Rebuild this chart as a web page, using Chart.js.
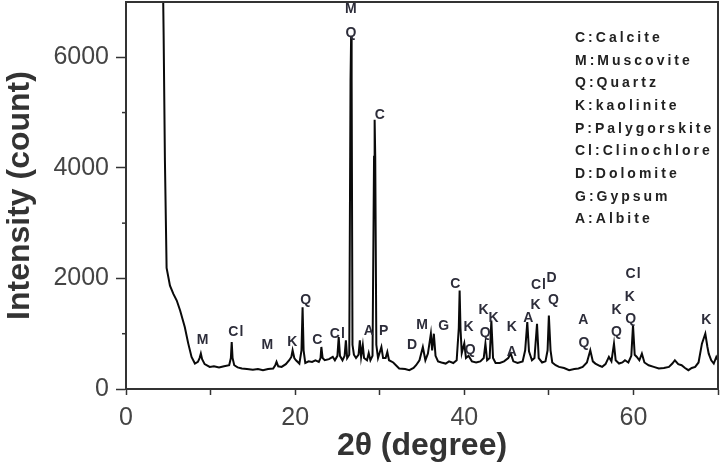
<!DOCTYPE html>
<html>
<head>
<meta charset="utf-8">
<script src="https://cdn.jsdelivr.net/npm/chart.js@4.4.1/dist/chart.umd.min.js"></script>
<style>
  html, body { margin: 0; padding: 0; background: #fff; }
  #wrap { width: 720px; height: 462px; }
</style>
</head>
<body>
<div id="wrap"><canvas id="xrd" width="720" height="462"></canvas></div>
<script>
// scan: 2theta (degree) and counts
const twoTheta = [
  4.35, 4.45, 4.6, 4.8, 5.2, 5.6, 6.0, 6.4, 6.95, 7.35,
  7.75, 8.15, 8.5, 8.7, 8.85, 9.0, 9.3, 9.9, 10.4, 11.0,
  11.6, 12.2, 12.4, 12.5, 12.6, 12.8, 13.2, 13.7, 14.3, 15.0,
  15.6, 16.2, 16.8, 17.4, 17.65, 17.8, 18.0, 18.4, 18.9, 19.3,
  19.55, 19.7, 19.9, 20.1, 20.5, 20.75, 20.88, 21.0, 21.2, 21.6,
  22.0, 22.4, 22.8, 23.0, 23.1, 23.25, 23.5, 24.0, 24.45, 24.7,
  25.0, 25.15, 25.3, 25.6, 25.85, 26.0, 26.15, 26.4, 26.55, 26.62,
  26.68, 26.78, 26.95, 27.2, 27.5, 27.65, 27.8, 28.0, 28.15, 28.5,
  28.7, 28.9, 29.15, 29.33, 29.4, 29.47, 29.6, 29.8, 30.2, 30.4,
  30.7, 30.9, 31.1, 31.6, 32.3, 33.0, 33.5, 34.0, 34.3, 34.7,
  35.1, 35.4, 35.7, 36.05, 36.2, 36.4, 36.6, 36.9, 37.3, 37.8,
  38.2, 38.7, 39.1, 39.35, 39.45, 39.55, 39.7, 40.0, 40.2, 40.5,
  40.9, 41.4, 41.9, 42.3, 42.5, 42.7, 43.0, 43.2, 43.4, 43.7,
  44.2, 44.7, 45.2, 45.5, 45.8, 46.3, 46.9, 47.2, 47.45, 47.65,
  48.0, 48.3, 48.6, 48.8, 49.2, 49.6, 49.85, 50.0, 50.2, 50.4,
  50.8, 51.2, 51.8, 52.4, 53.0, 53.5, 54.0, 54.5, 54.9, 55.2,
  55.5, 56.0, 56.3, 56.7, 57.1, 57.4, 57.7, 57.9, 58.3, 58.7,
  59.0, 59.4, 59.75, 59.95, 60.15, 60.4, 60.7, 61.0, 61.3, 61.8,
  62.4, 63.0, 63.6, 64.2, 64.6, 64.9, 65.3, 65.7, 66.1, 66.5,
  66.9, 67.3, 67.7, 68.1, 68.5, 68.75, 68.9, 69.2, 69.5, 69.8, 70.0
];
const intensity = [
  7600, 6400, 4150, 2190, 1870, 1720, 1600, 1420, 1120, 830,
  580, 460, 490, 560, 640, 540, 450, 400, 410, 390,
  410, 430, 560, 850, 560, 430, 390, 370, 360, 350,
  360, 340, 360, 370, 430, 490, 410, 400, 450, 520,
  580, 700, 560, 520, 460, 700, 1480, 700, 470, 500,
  490, 520, 490, 560, 760, 560, 520, 540, 580, 520,
  600, 940, 600, 520, 600, 880, 560, 620, 5600, 6390,
  5600, 800, 620, 560, 620, 880, 580, 790, 560, 520,
  650, 520, 600, 4200, 4870, 4200, 800, 560, 760, 560,
  560, 670, 520, 480, 370, 360, 340, 380, 430, 520,
  760, 520, 640, 1000, 700, 1000, 600, 500, 480, 460,
  500, 470, 520, 1100, 1780, 1100, 650, 825, 560, 600,
  500, 480, 500, 560, 820, 520, 560, 1240, 560, 470,
  470, 500, 560, 640, 500, 470, 500, 700, 1210, 680,
  520, 560, 1180, 560, 480, 500, 700, 1330, 700, 480,
  430, 400, 380, 340, 360, 370, 400, 480, 700, 500,
  460, 420, 400, 450, 580, 500, 820, 520, 460, 480,
  520, 480, 600, 1150, 620, 580, 520, 640, 480, 430,
  400, 370, 380, 400, 460, 520, 450, 430, 380, 340,
  380, 400, 480, 820, 1000, 760, 640, 520, 460, 580, 520
];

// phase letters over the peaks (position in data units)
const peakLetters = ['M', 'Q', 'C', 'M', 'Cl', 'M', 'K', 'Q', 'C', 'Cl',
  'A', 'P', 'D', 'M', 'G', 'C', 'K', 'Q', 'K', 'Q',
  'K', 'K', 'A', 'A', 'Cl', 'K', 'D', 'Q', 'A', 'Q',
  'K', 'Q', 'Cl', 'K', 'Q', 'K'];
const peakTheta = [26.65, 26.65, 30.07, 9.12, 13.05, 16.78, 19.73, 21.31, 22.68, 25.04,
  28.77, 30.54, 33.88, 35.06, 37.62, 39.0, 40.57, 40.77, 42.33, 42.53,
  43.51, 45.67, 45.67, 47.64, 48.82, 48.5, 50.39, 50.59, 54.13, 54.21,
  58.05, 58.05, 60.02, 59.63, 59.75, 68.67];
const peakHeight = [6875, 6445, 4955, 880, 1030, 790, 850, 1600, 880, 1000,
  1045, 1045, 790, 1150, 1130, 1900, 1120, 700, 1420, 1005,
  1275, 1120, 670, 1275, 1870, 1510, 2010, 1615, 1250, 830,
  1430, 1030, 2080, 1660, 1270, 1240];

const mineralKey = ['C:Calcite', 'M:Muscovite', 'Q:Quartz', 'K:kaolinite',
  'P:Palygorskite', 'Cl:Clinochlore', 'D:Dolomite', 'G:Gypsum', 'A:Albite'];

const xLabelTicks = [0, 20, 40, 60];
const yLabelTicks = [0, 2000, 4000, 6000];

const FONT = '"Liberation Sans", Arial, Helvetica, sans-serif';
Chart.defaults.font.family = FONT;

const extras = {
  id: 'extras',
  afterDatasetsDraw(chart) {
    const { ctx, chartArea: a, scales: { x, y } } = chart;
    ctx.save();
    ctx.strokeStyle = '#333';
    ctx.lineWidth = 2;
    ctx.beginPath();
    ctx.moveTo(a.left, a.top);
    ctx.lineTo(a.right, a.top);
    ctx.lineTo(a.right, a.bottom);
    ctx.stroke();

    // short minor ticks on the y axis
    ctx.lineWidth = 1.5;
    y.ticks.forEach(t => {
      if (yLabelTicks.includes(t.value) || t.value >= y.max) return;
      const py = y.getPixelForValue(t.value);
      ctx.beginPath();
      ctx.moveTo(a.left - 4, py);
      ctx.lineTo(a.left, py);
      ctx.stroke();
    });

    ctx.fillStyle = '#2d2d3a';
    ctx.font = 'bold 14px ' + FONT;
    ctx.letterSpacing = '1px';
    ctx.textAlign = 'center';
    ctx.textBaseline = 'middle';
    peakLetters.forEach((s, i) => {
      ctx.fillText(s, x.getPixelForValue(peakTheta[i]), y.getPixelForValue(peakHeight[i]));
    });

    ctx.fillStyle = '#222';
    ctx.textAlign = 'left';
    ctx.letterSpacing = '3px';
    mineralKey.forEach((s, i) => {
      ctx.fillText(s, 575, 38 + i * 22.7);
    });
    ctx.restore();
  }
};

new Chart(document.getElementById('xrd'), {
  type: 'line',
  data: {
    datasets: [{
      data: twoTheta.map((t, i) => ({ x: t, y: intensity[i] })),
      borderColor: '#0a0a0a',
      borderWidth: 2,
      pointRadius: 0,
      tension: 0
    }]
  },
  options: {
    responsive: false,
    animation: false,
    devicePixelRatio: 1,
    layout: { padding: { top: 2, right: 2, left: 0, bottom: 0 } },
    plugins: { legend: { display: false }, tooltip: { enabled: false } },
    scales: {
      x: {
        type: 'linear',
        min: 0,
        max: 70,
        afterFit(s) { s.height = 73; s.paddingLeft = 0; s.paddingRight = 0; },
        border: { display: true, color: '#333', width: 2 },
        grid: { drawOnChartArea: false, tickLength: 6, tickColor: '#333', tickWidth: 1.5 },
        ticks: {
          stepSize: 10,
          autoSkip: false,
          maxRotation: 0,
          padding: 8,
          color: '#444',
          font: { size: 25 },
          callback: v => xLabelTicks.includes(v) ? v : ''
        },
        title: {
          display: true,
          text: '2θ (degree)',
          color: '#333',
          font: { size: 32, weight: 'bold', lineHeight: 1 },
          padding: { top: 0, bottom: 0 }
        }
      },
      y: {
        min: 0,
        max: 7000,
        afterFit(s) { s.width = 126; s.paddingTop = 0; s.paddingBottom = 0; },
        border: { display: true, color: '#333', width: 2 },
        grid: {
          drawOnChartArea: false,
          tickLength: 10,
          tickWidth: 1.5,
          tickColor: c => yLabelTicks.includes(c.tick.value) ? '#333' : 'rgba(0,0,0,0)'
        },
        ticks: {
          stepSize: 1000,
          autoSkip: false,
          padding: 7,
          color: '#444',
          font: { size: 25 },
          callback: v => yLabelTicks.includes(v) ? v : ''
        },
        title: {
          display: true,
          text: 'Intensity (count)',
          color: '#333',
          font: { size: 32, weight: 'bold', lineHeight: 1 },
          padding: { top: 4, bottom: 0 }
        }
      }
    }
  },
  plugins: [extras]
});
</script>
</body>
</html>
